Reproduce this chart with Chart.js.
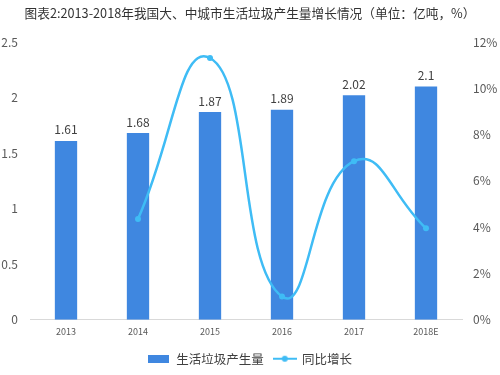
<!DOCTYPE html>
<html>
<head>
<meta charset="utf-8">
<script src="https://cdn.jsdelivr.net/npm/chart.js@4/dist/chart.umd.min.js"></script>
<style>
html,body{margin:0;padding:0;background:#fff;}
#wrap{width:500px;height:375px;position:relative;}
</style>
</head>
<body>
<div id="wrap"><canvas id="c" width="500" height="375"></canvas></div>
<script>
const titleText = '图表2:2013-2018年我国大、中城市生活垃圾产生量增长情况（单位：亿吨，%）';
const categories = ['2013', '2014', '2015', '2016', '2017', '2018E'];
const wasteOutput = [1.61, 1.68, 1.87, 1.89, 2.02, 2.1];
const growthRate = [null, 4.35, 11.31, 1.0, 6.85, 3.95];
const seriesNames = ['生活垃圾产生量', '同比增长'];
const leftTickMax = 2.5, leftTickStep = 0.5;
const rightTickMax = 12, rightTickStep = 2;

const BAR_COLOR = '#3f87e0';
const LINE_COLOR = '#3fbcf5';
const FONT = '"Noto Sans CJK SC", "Noto Sans", sans-serif';

function makeBarIcon() {
  const c = document.createElement('canvas');
  c.width = 21; c.height = 8;
  const g = c.getContext('2d');
  g.fillStyle = BAR_COLOR;
  g.fillRect(0, 0, 21, 8);
  return c;
}
function makeLineIcon() {
  const c = document.createElement('canvas');
  c.width = 24; c.height = 8;
  const g = c.getContext('2d');
  g.strokeStyle = LINE_COLOR;
  g.lineWidth = 2;
  g.beginPath(); g.moveTo(0, 4); g.lineTo(24, 4); g.stroke();
  g.fillStyle = LINE_COLOR;
  g.beginPath(); g.arc(12, 4, 3, 0, Math.PI * 2); g.fill();
  return c;
}
const barIcon = makeBarIcon();
const lineIcon = makeLineIcon();

const barLabels = {
  id: 'barLabels',
  afterDatasetsDraw(chart) {
    const meta = chart.getDatasetMeta(0);
    const ctx = chart.ctx;
    ctx.save();
    ctx.font = '12px ' + FONT;
    ctx.fillStyle = '#404040';
    ctx.textAlign = 'center';
    ctx.textBaseline = 'bottom';
    meta.data.forEach((bar, i) => {
      ctx.fillText(String(wasteOutput[i]), bar.x, bar.y - 5);
    });
    ctx.restore();
  }
};

new Chart(document.getElementById('c'), {
  data: {
    labels: categories,
    datasets: [
      {
        type: 'bar',
        label: seriesNames[0],
        data: wasteOutput,
        backgroundColor: BAR_COLOR,
        yAxisID: 'y',
        categoryPercentage: 1,
        barPercentage: 0.31,
        order: 2
      },
      {
        type: 'line',
        label: seriesNames[1],
        data: growthRate,
        borderColor: LINE_COLOR,
        backgroundColor: LINE_COLOR,
        borderWidth: 2.5,
        pointRadius: 3,
        pointBackgroundColor: LINE_COLOR,
        pointBorderWidth: 0,
        tension: 0.5,
        yAxisID: 'y1',
        order: 1
      }
    ]
  },
  options: {
    responsive: false,
    animation: false,
    devicePixelRatio: 1,
    layout: { padding: { left: 0, right: 0, top: 0, bottom: 0 } },
    plugins: {
      title: {
        display: true,
        text: titleText,
        color: '#333333',
        font: { family: FONT, size: 12.7, weight: 'normal' },
        padding: { top: 6, bottom: 20.8 }
      },
      legend: {
        display: true,
        position: 'bottom',
        labels: {
          usePointStyle: true,
          pointStyleWidth: 22,
          color: '#404040',
          font: { family: FONT, size: 12.5 },
          padding: 10,
          generateLabels() {
            return [
              { text: seriesNames[0], pointStyle: barIcon, fillStyle: BAR_COLOR, strokeStyle: BAR_COLOR, lineWidth: 0, datasetIndex: 0, fontColor: '#404040' },
              { text: seriesNames[1], pointStyle: lineIcon, fillStyle: LINE_COLOR, strokeStyle: LINE_COLOR, lineWidth: 0, datasetIndex: 1, fontColor: '#404040' }
            ];
          }
        }
      },
      tooltip: { enabled: false }
    },
    scales: {
      x: {
        offset: true,
        grid: { display: false, drawTicks: false },
        border: { display: true, color: '#d9d9d9', width: 1 },
        ticks: { color: '#595959', font: { family: FONT, size: 9 }, padding: 6 }
      },
      y: {
        position: 'left',
        min: 0,
        max: leftTickMax,
        grid: { display: false, drawTicks: false },
        border: { display: false },
        ticks: {
          stepSize: leftTickStep,
          color: '#595959',
          font: { family: FONT, size: 12 },
          padding: 12,
          callback: v => String(Math.round(v * 10) / 10)
        },
        afterFit(scale) { scale.width = 30; }
      },
      y1: {
        position: 'right',
        min: 0,
        max: rightTickMax,
        grid: { display: false, drawTicks: false },
        border: { display: false },
        ticks: {
          stepSize: rightTickStep,
          color: '#595959',
          font: { family: FONT, size: 12 },
          padding: 11,
          callback: v => v + '%'
        },
        afterFit(scale) { scale.width = 38; }
      }
    }
  },
  plugins: [barLabels]
});
</script>
</body>
</html>
